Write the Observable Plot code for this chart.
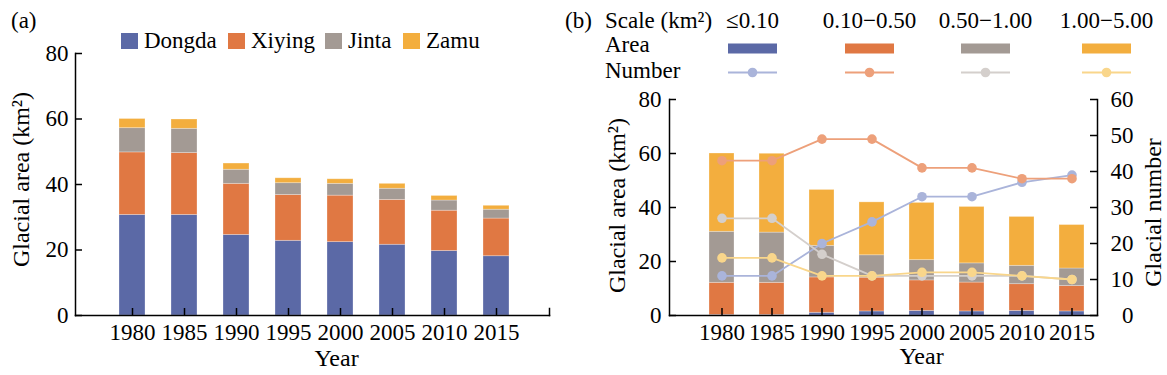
<!DOCTYPE html>
<html><head><meta charset="utf-8">
<script src="https://cdn.jsdelivr.net/npm/d3@7"></script>
<script src="https://cdn.jsdelivr.net/npm/@observablehq/plot@0.6"></script>
<style>
html,body{margin:0;padding:0;background:#fff;}
#wrap{position:relative;width:1167px;height:375px;overflow:hidden;font-family:"Liberation Serif","Times New Roman",serif;}
#wrap svg{position:absolute;top:0;font-family:"Liberation Serif","Times New Roman",serif !important;}
#wrap svg text{font-family:"Liberation Serif","Times New Roman",serif;}
</style></head><body><div id="wrap"></div>
<script>
// ---------- data ----------
const years = ["1980","1985","1990","1995","2000","2005","2010","2015"];

// panel (a): glacial area by glacier (km²)
const glaciers = ["Dongda","Xiying","Jinta","Zamu"];
const dongda = [30.7,30.7,24.6,22.8,22.4,21.6,19.7,18.1];
const xiying = [19.1,18.9,15.6,14.0,14.2,13.7,12.3,11.5];
const jinta  = [7.4,7.4,4.3,3.6,3.6,3.4,3.1,2.7];
const zamu   = [2.8,2.85,1.9,1.5,1.4,1.5,1.4,1.2];
const glacierColors = ["#5b69a6","#e07843","#a39a94","#f3ae3e"];

// panel (b): area and number by size class
const sizeClasses = ["≤0.10","0.10−0.50","0.50−1.00","1.00−5.00"];
const areaS1 = [0.2,0.2,1.0,1.5,1.7,1.5,1.7,1.5];
const areaS2 = [11.9,11.9,13.1,12.5,11.3,10.7,9.9,9.4];
const areaS3 = [18.9,18.6,11.7,8.3,7.5,7.1,6.8,6.5];
const areaS4 = [29.0,29.2,20.7,19.6,21.2,20.9,18.1,16.1];
const numS1 = [11,11,20,26,33,33,37,39];
const numS2 = [43,43,49,49,41,41,38,38];
const numS3 = [27,27,17,11,11,11,11,10];
const numS4 = [16,16,11,11,12,12,11,10];
const classColors = ["#5b69a6","#e07843","#a39a94","#f3ae3e"];
const lineColors  = ["#aab4da","#eda07a","#d4cfcc","#f9d68b"];

const yTicksA = [0,20,40,60,80];
const yTicksB = [0,20,40,60,80];
const nTicksB = [0,10,20,30,40,50,60];
const areaMax = 80, numMax = 60;
const yLabel = "Glacial area (km²)";
const nLabel = "Glacial number";
const xLabel = "Year";

// ---------- layout ----------
const H = 375, tick = 7, FS = 23, LFS = 24;
const wrap = document.getElementById("wrap");
const baseStyle = `font-family: 'Liberation Serif', 'Times New Roman', serif; font-size: ${FS}px; background: transparent; overflow: visible; color: black;`;
const barEdge = {stroke: "white", strokeOpacity: 0.35, strokeWidth: 0.8};

// ---------- panel (a) ----------
const areaA = [dongda, xiying, jinta, zamu];
const tidyA = [];
glaciers.forEach((g, i) => years.forEach((y, j) => tidyA.push({year: y, series: g, value: areaA[i][j], color: glacierColors[i]})));
const WA = 590, mA = {l: 75, r: 41, t: 53, b: 60};
const fwA = WA - mA.l - mA.r, fhA = H - mA.t - mA.b;
const plotA = Plot.plot({
  width: WA, height: H,
  marginLeft: mA.l, marginRight: mA.r, marginTop: mA.t, marginBottom: mA.b,
  style: baseStyle,
  x: {type: "band", domain: years, paddingInner: 0.5, paddingOuter: 0.75, align: 0.52},
  y: {domain: [0, areaMax]},
  color: {type: "identity"},
  marks: [
    Plot.barY(tidyA, {x: "year", y: "value", fill: "color", z: "series", ...barEdge}),
    Plot.frame({anchor: "left", strokeWidth: 1.5}),
    Plot.frame({anchor: "bottom", strokeWidth: 1.5}),
    Plot.ruleY(yTicksA, {y: d => d, insetRight: fwA - tick, strokeWidth: 1.5}),
    Plot.ruleX(years, {x: d => d, insetTop: fhA - tick, strokeWidth: 1.5}),
    Plot.frame({anchor: "right", insetTop: fhA - tick, strokeWidth: 1.5}),
    Plot.axisY(yTicksA, {tickSize: 0, tickPadding: 7, label: null, fontSize: FS}),
    Plot.axisX({tickSize: 0, tickPadding: 8, label: null, fontSize: FS}),
    Plot.text([yLabel], {text: d => d, frameAnchor: "left", textAnchor: "middle", lineAnchor: "middle", dx: -54, dy: -5, rotate: -90, fontSize: LFS}),
    Plot.text([xLabel], {text: d => d, frameAnchor: "bottom", textAnchor: "middle", lineAnchor: "middle", dx: 24, dy: 43, fontSize: LFS})
  ]
});
plotA.style.left = "0px";
wrap.appendChild(plotA);

// ---------- panel (b) ----------
const areaB = [areaS1, areaS2, areaS3, areaS4];
const numB = [numS1, numS2, numS3, numS4];
const tidyB = [];
sizeClasses.forEach((c, i) => years.forEach((y, j) => tidyB.push({year: y, series: c, value: areaB[i][j], color: classColors[i]})));
const k = areaMax / numMax;
const WB = 577, mB = {l: 79, r: 70, t: 99, b: 60};
const fwB = WB - mB.l - mB.r, fhB = H - mB.t - mB.b;
const lineMarks = [];
sizeClasses.forEach((c, i) => {
  lineMarks.push(Plot.line(years, {x: d => d, y: (d, j) => numB[i][j] * k, stroke: lineColors[i], strokeWidth: 1.8}));
  lineMarks.push(Plot.dot(years, {x: d => d, y: (d, j) => numB[i][j] * k, fill: lineColors[i], r: 4.8}));
});
const plotB = Plot.plot({
  width: WB, height: H,
  marginLeft: mB.l, marginRight: mB.r, marginTop: mB.t, marginBottom: mB.b,
  style: baseStyle,
  x: {type: "band", domain: years, paddingInner: 0.5, paddingOuter: 0.49, align: 0.75},
  y: {domain: [0, areaMax]},
  color: {type: "identity"},
  marks: [
    Plot.barY(tidyB, {x: "year", y: "value", fill: "color", z: "series", ...barEdge}),
    ...lineMarks,
    Plot.frame({anchor: "left", strokeWidth: 1.5}),
    Plot.frame({anchor: "right", strokeWidth: 1.5}),
    Plot.frame({anchor: "bottom", strokeWidth: 1.5}),
    Plot.ruleY(yTicksB, {y: d => d, insetRight: fwB - tick, strokeWidth: 1.5}),
    Plot.ruleY(nTicksB, {y: d => d * k, insetLeft: fwB - tick, strokeWidth: 1.5}),
    Plot.ruleX(years, {x: d => d, insetTop: fhB - tick, strokeWidth: 1.5}),
    Plot.axisY(yTicksB, {tickSize: 0, tickPadding: 8, label: null, fontSize: FS}),
    Plot.axisY(nTicksB.map(v => v * k), {anchor: "right", tickSize: 0, tickPadding: 36, textAnchor: "end", tickFormat: d => String(Math.round(d / k)), label: null, fontSize: FS}),
    Plot.axisX({tickSize: 0, tickPadding: 8, label: null, fontSize: FS}),
    Plot.text([yLabel], {text: d => d, frameAnchor: "left", textAnchor: "middle", lineAnchor: "middle", dx: -52, dy: -2, rotate: -90, fontSize: LFS}),
    Plot.text([nLabel], {text: d => d, frameAnchor: "right", textAnchor: "middle", lineAnchor: "middle", dx: 56, dy: 5, rotate: -90, fontSize: LFS}),
    Plot.text([xLabel], {text: d => d, frameAnchor: "bottom", textAnchor: "middle", lineAnchor: "middle", dx: 38, dy: 41, fontSize: LFS})
  ]
});
plotB.style.left = "590px";
wrap.appendChild(plotB);

// ---------- legends / panel tags ----------
const ov = d3.create("svg").attr("width", 1167).attr("height", H)
  .style("left", "0px").style("top", "0px")
  .attr("font-family", "Liberation Serif").attr("font-size", FS).attr("fill", "black");
ov.append("text").attr("x", 11).attr("y", 28).text("(a)");
ov.append("text").attr("x", 565).attr("y", 28).text("(b)");

// legend (a)
const legAx = [121, 228, 325, 403];
glaciers.forEach((g, i) => {
  ov.append("rect").attr("x", legAx[i]).attr("y", 33).attr("width", 17).attr("height", 16).attr("fill", glacierColors[i]);
  ov.append("text").attr("x", legAx[i] + 23).attr("y", 48).text(g);
});

// legend (b)
ov.append("text").attr("x", 605).attr("y", 28).text("Scale (km²)");
ov.append("text").attr("x", 605).attr("y", 52).text("Area");
ov.append("text").attr("x", 605).attr("y", 78).text("Number");
const legBx = [728, 845, 961, 1082];
sizeClasses.forEach((c, i) => {
  const x0 = legBx[i];
  ov.append("text").attr("x", x0 + 24.5).attr("y", 28).attr("text-anchor", "middle").text(c);
  ov.append("rect").attr("x", x0).attr("y", 43.5).attr("width", 49).attr("height", 10).attr("fill", classColors[i]);
  ov.append("line").attr("x1", x0).attr("x2", x0 + 49).attr("y1", 72.5).attr("y2", 72.5).attr("stroke", lineColors[i]).attr("stroke-width", 1.8);
  ov.append("circle").attr("cx", x0 + 24.5).attr("cy", 72.5).attr("r", 4.8).attr("fill", lineColors[i]);
});
wrap.appendChild(ov.node());
</script></body></html>
